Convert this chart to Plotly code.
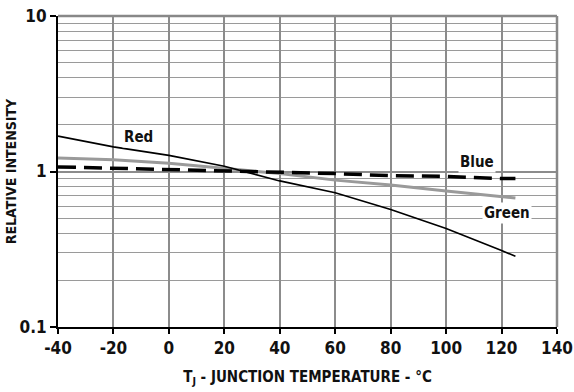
import math
import plotly.graph_objects as go

# Junction temperature (°C) and relative luminous intensity per colour
temp = [-40, -20, 0, 20, 40, 60, 80, 100, 120, 125]
red = [1.69, 1.44, 1.27, 1.08, 0.87, 0.73, 0.57, 0.43, 0.31, 0.285]
green = [1.22, 1.19, 1.13, 1.05, 0.97, 0.88, 0.82, 0.75, 0.69, 0.675]
blue = [1.07, 1.05, 1.03, 1.01, 0.99, 0.97, 0.94, 0.93, 0.90, 0.90]

x_ticks = [-40, -20, 0, 20, 40, 60, 80, 100, 120, 140]
y_major = [0.1, 1, 10]
y_minor = [m * d for d in (0.1, 1) for m in range(2, 10)]

FONT = "Liberation Sans Narrow, DejaVu Sans Condensed, Arial Narrow, sans-serif"

fig = go.Figure()
fig.add_trace(go.Scatter(x=temp, y=green, mode="lines",
                         line=dict(color="#9a9a9a", width=3), name="Green"))
fig.add_trace(go.Scatter(x=temp, y=blue, mode="lines",
                         line=dict(color="black", width=3.5, dash="18px,8px"), name="Blue"))
fig.add_trace(go.Scatter(x=temp, y=red, mode="lines",
                         line=dict(color="black", width=1.6), name="Red"))

# series names placed next to their curves (y in log10 units on a log axis)
labels = [("Red", -11, 1.67), ("Blue", 111, 1.15), ("Green", 122, 0.54)]
for text, lx, ly in labels:
    fig.add_annotation(x=lx, y=math.log10(ly), xref="x", yref="y",
                       text=f"<b>{text}</b>", showarrow=False,
                       font=dict(family=FONT, size=15, color="#111"),
                       bgcolor="white", borderpad=1)

# top and right frame edges in grey
fig.add_shape(type="line", xref="paper", yref="paper", x0=0, x1=1, y0=1, y1=1,
              line=dict(color="#888", width=2.5))
fig.add_shape(type="line", xref="paper", yref="paper", x0=1, x1=1, y0=0, y1=1,
              line=dict(color="#888", width=2.5))

fig.update_layout(
    width=574, height=392,
    margin=dict(l=58, r=17, t=16, b=65),
    paper_bgcolor="white", plot_bgcolor="white",
    showlegend=False,
    font=dict(family=FONT, color="#111"),
    xaxis=dict(
        range=[-40, 140], tickvals=x_ticks,
        ticktext=[f"<b>{v}</b>" for v in x_ticks],
        tickfont=dict(size=17, family=FONT, color="#111"),
        showgrid=True, gridcolor="#8c8c8c", gridwidth=1.5,
        showline=True, linecolor="black", linewidth=2,
        ticks="outside", ticklen=5, tickcolor="black", tickwidth=1.5,
        zeroline=False, automargin=False,
        title=dict(text="<b>T<sub>J</sub> - JUNCTION TEMPERATURE - °C</b>",
                   font=dict(size=15, family=FONT, color="#111"), standoff=14),
    ),
    yaxis=dict(
        type="log", range=[-1, 1],
        tickvals=y_major, ticktext=["<b>0.1</b>", "<b>1</b>", "<b>10</b>"],
        tickfont=dict(size=17, family=FONT, color="#111"),
        showgrid=True, gridcolor="#8c8c8c", gridwidth=1.5,
        minor=dict(tickvals=y_minor, showgrid=True, gridcolor="#9a9a9a",
                   gridwidth=1.3, ticks=""),
        showline=True, linecolor="black", linewidth=2,
        ticks="outside", ticklen=6, tickcolor="black", tickwidth=1.5,
        automargin=False,
        title=dict(text="<b>RELATIVE INTENSITY</b>",
                   font=dict(size=14, family=FONT, color="#111"), standoff=0),
    ),
)

fig.write_html("out.html")
